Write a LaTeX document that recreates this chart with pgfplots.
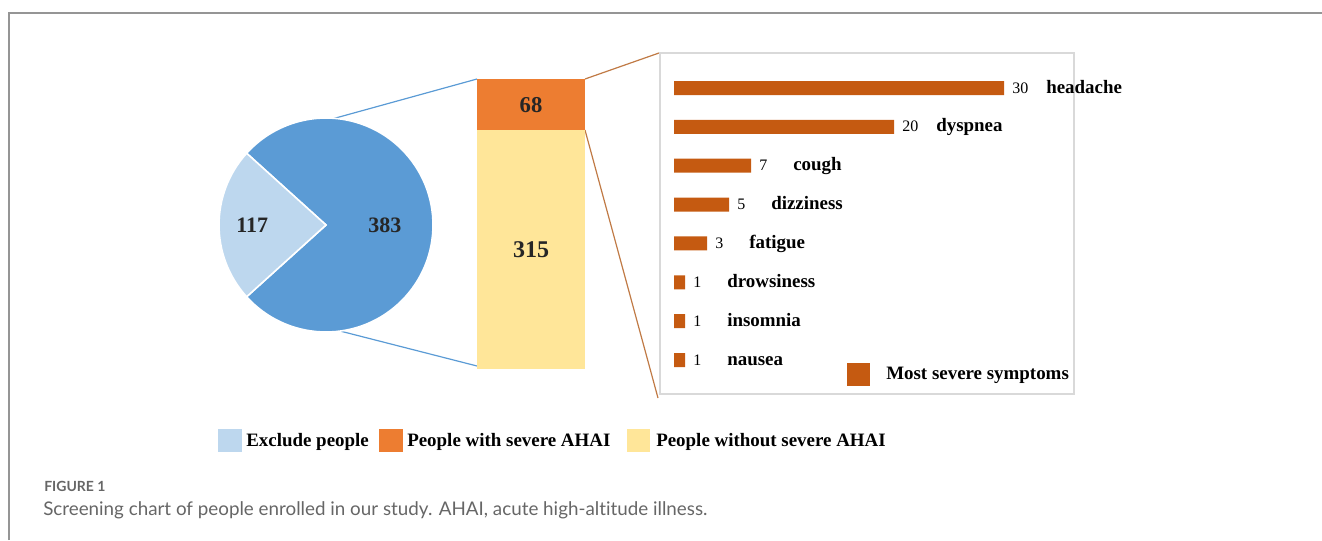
\documentclass[border=0pt]{standalone}
\usepackage{pgfplots}
\pgfplotsset{compat=1.18}
\usepackage{pgfplotstable}
\usepackage{fontspec}
\setmainfont{Liberation Serif}
\newfontfamily\capfont[Ligatures=NoCommon]{Lato}

\definecolor{pieDark}{HTML}{5B9BD5}
\definecolor{pieLight}{HTML}{BDD7EE}
\definecolor{sevOrange}{HTML}{ED7D31}
\definecolor{noSevYellow}{HTML}{FFE699}
\definecolor{symBar}{HTML}{C55A11}
\definecolor{linkBrown}{HTML}{C07A45}
\definecolor{frameGray}{HTML}{959595}
\definecolor{boxGray}{HTML}{D9D9D9}
\definecolor{labelInk}{HTML}{262626}
\definecolor{capGray}{HTML}{666666}

% most severe symptom reported by each person with severe AHAI
\pgfplotstableread{
y count name
0 30 headache
1 20 dyspnea
2 7  cough
3 5  dizziness
4 3  fatigue
5 1  drowsiness
6 1  insomnia
7 1  nausea
}\symptoms

% screening counts
\newcommand\excluded{117}
\newcommand\enrolled{383}
\newcommand\severe{68}
\newcommand\notsevere{315}

\pgfmathsetmacro\halfangle{\excluded*(180/(\excluded+\enrolled))}
\pgfmathsetmacro\lightstart{180-\halfangle}
\pgfmathsetmacro\lightend{180+\halfangle}
\pgfmathsetmacro\darkend{360+\lightstart}
\pgfmathsetmacro\severemid{\notsevere+\severe/2}
\pgfmathsetmacro\notseveremid{\notsevere/2}

\newcommand\chartfont{\bfseries\fontsize{14.2}{16}\selectfont}

\begin{document}
\begin{tikzpicture}
\useasboundingbox (0,0) rectangle (991.5pt,-405pt);

\begin{scope}[x=0.75pt, y=-0.75pt]
  % page frame
  \draw[frameGray, line width=1.1pt] (9,540) -- (9,13) -- (1322,13);
  % connectors from the pie to the bar, and from the bar to the symptom panel
  \draw[pieDark, line width=0.9pt] (332,119) -- (477,79);
  \draw[pieDark, line width=0.9pt] (340,331) -- (477,366);
  \draw[linkBrown, line width=0.9pt] (585,79) -- (659,53);
  \draw[linkBrown, line width=0.9pt] (585,130) -- (658,398);
  % symptom panel frame
  \draw[boxGray, line width=0.9pt] (660,53) rectangle (1074,394);
  % symptom legend
  \fill[symBar] (847,363) rectangle (870,386);
  \node[anchor=base west, inner sep=0pt, font=\chartfont] at (886,379) {Most severe symptoms};
  % bottom legend
  \fill[pieLight] (218,429) rectangle (242,452);
  \node[anchor=base west, inner sep=0pt, font=\chartfont] at (246,446.7) {Exclude people};
  \fill[sevOrange] (379,429) rectangle (403,452);
  \node[anchor=base west, inner sep=0pt, font=\chartfont] at (407,446.7) {People with severe AHAI};
  \fill[noSevYellow] (627,429) rectangle (650,452);
  \node[anchor=base west, inner sep=0pt, font=\chartfont] at (656,446.7) {People without severe AHAI};
  % caption
  \node[anchor=base west, inner sep=0pt, text=capGray, font=\capfont\bfseries\fontsize{10.5}{12}\selectfont] at (44,491) {FIGURE 1};
  \node[anchor=base west, inner sep=0pt, text=capGray, font=\capfont\fontsize{14.1}{16}\selectfont] at (43,515.7)
    {Screening chart of people enrolled in our study. AHAI, acute high-altitude illness.};
\end{scope}

% pie: excluded vs enrolled
\begin{axis}[at={(244.5pt,-168.75pt)}, anchor=center,
  width=160.5pt, height=160.5pt, scale only axis, hide axis, clip=false,
  xmin=-1, xmax=1, ymin=-1, ymax=1]
  \fill[pieDark, draw=white, line width=1.2pt] (axis cs:0,0) -- (axis cs:{cos(\lightend)},{sin(\lightend)})
     arc[start angle=\lightend, end angle=\darkend, radius=80.25pt] -- cycle;
  \fill[pieLight, draw=white, line width=1.2pt] (axis cs:0,0) -- (axis cs:{cos(\lightstart)},{sin(\lightstart)})
     arc[start angle=\lightstart, end angle=\lightend, radius=80.25pt] -- cycle;
  \node[text=labelInk, font=\bfseries\fontsize{16.5}{18}\selectfont] at (axis cs:-0.69,0) {\excluded};
  \node[text=labelInk, font=\bfseries\fontsize{16.5}{18}\selectfont] at (axis cs:0.55,0) {\enrolled};
\end{axis}

% enrolled people split by severity
\begin{axis}[at={(398.25pt,-168pt)}, anchor=center,
  width=81pt, height=217.5pt, scale only axis, hide axis, clip=false,
  xmin=-0.5, xmax=0.5, ymin=0, ymax=383,
  ybar stacked, bar width=81pt]
  \addplot[fill=noSevYellow, draw=none] coordinates {(0,315)};
  \addplot[fill=sevOrange, draw=none] coordinates {(0,68)};
  \coordinate (notsevereMid) at (axis cs:0,\notseveremid);
  \coordinate (severeMid) at (axis cs:0,\severemid);
\end{axis}
\node[text=labelInk, font=\bfseries\fontsize{18}{20}\selectfont] at (notsevereMid) {\notsevere};
\node[text=labelInk, font=\bfseries\fontsize{17}{19}\selectfont] at (severeMid) {\severe};

% most severe symptoms
\begin{axis}[at={(629.25pt,-168pt)}, anchor=center,
  width=247.5pt, height=233.14pt, scale only axis, hide axis, clip=false,
  xmin=0, xmax=30, ymin=-0.5, ymax=7.5, y dir=reverse,
  xbar, bar width=10.5pt,
  point meta=explicit symbolic,
  visualization depends on={\thisrow{count}\as\symcount},
  nodes near coords={\makebox[25.5pt][l]{\mdseries\fontsize{12}{14}\selectfont\pgfmathprintnumber[assume math mode=true]{\symcount}}\pgfplotspointmeta},
  every node near coord/.append style={anchor=base west, inner sep=0pt, xshift=6pt, yshift=-3.75pt,
    font=\chartfont, text=black}]
  \addplot[fill=symBar, draw=none] table[x=count, y=y, meta=name] {\symptoms};
\end{axis}
\end{tikzpicture}
\end{document}
